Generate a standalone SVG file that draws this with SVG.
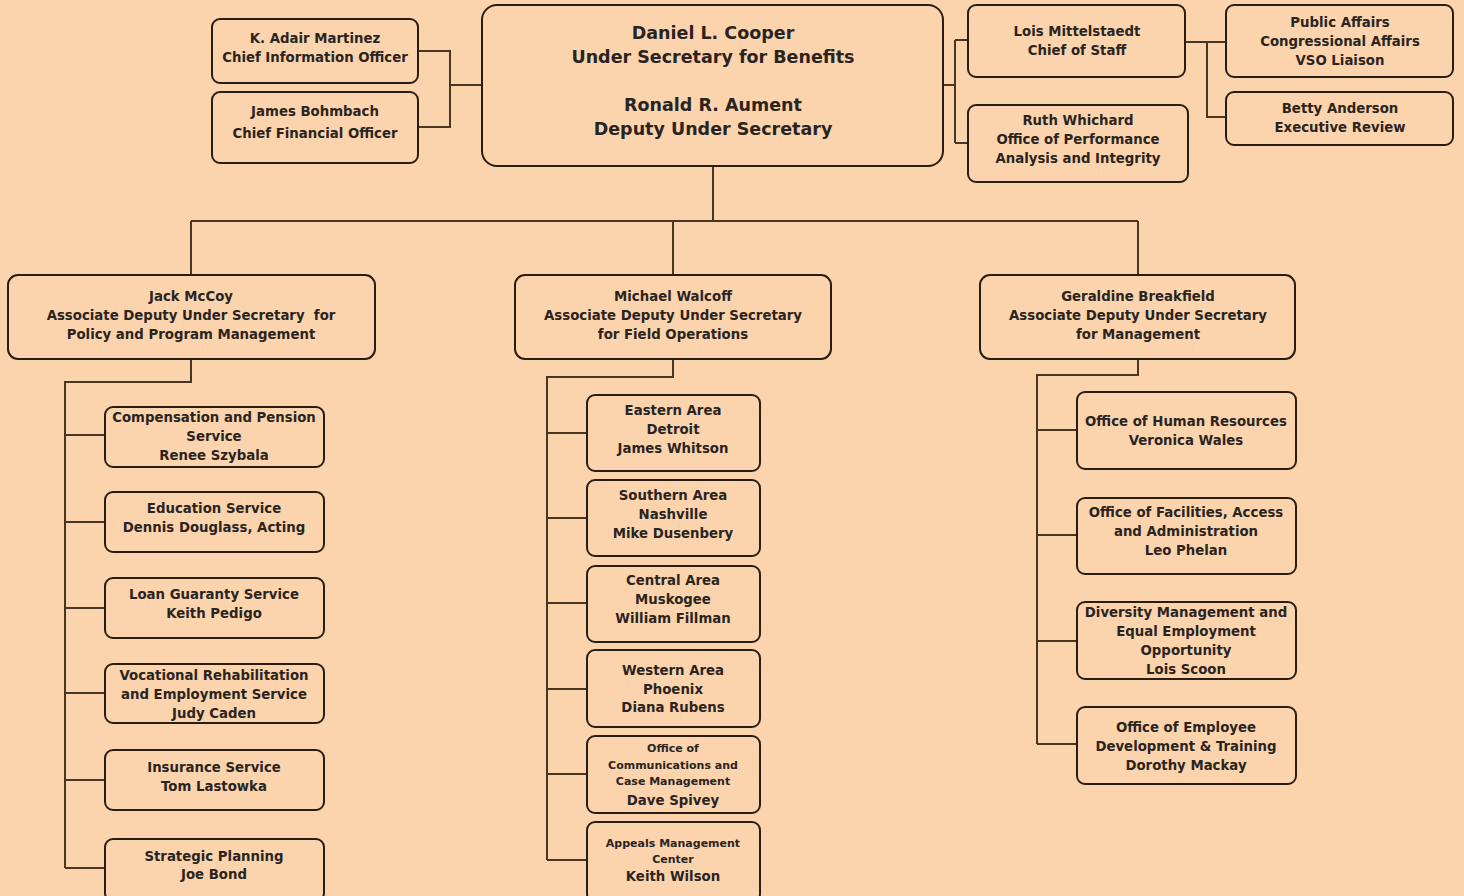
<svg xmlns="http://www.w3.org/2000/svg" width="1464" height="896" viewBox="0 0 1464 896">
<style>
.bx{fill:#FBD4AE;stroke:#2a1e12;stroke-width:2}
.t{font-family:"DejaVu Sans","Liberation Sans",sans-serif;font-weight:bold;font-size:13.3px;fill:#2a2420;text-anchor:middle}
.big{font-size:17.5px}
.sm{font-size:11px}
#connectors path{fill:none;stroke:#4a3522;stroke-width:2}
</style>
<rect width="1464" height="896" fill="#FBD4AE"/>
<g id="connectors">
<path d="M418 51H450V127H418M450 85H482"/>
<path d="M943 85H955M955 40V143M955 40H968M955 143H968"/>
<path d="M1185 42H1226M1207 42V117H1226"/>
<path d="M713 166V221M191 221H1138M191 221V275M673 221V275M1138 221V275"/>
<path d="M191 359V382H65V868M65 435H105M65 522H105M65 608H105M65 693H105M65 780H105M65 868H105"/>
<path d="M673 359V377H547V860M547 433H587M547 518H587M547 603H587M547 689H587M547 774H587M547 860H587"/>
<path d="M1138 359V375H1037V744M1037 430H1077M1037 535H1077M1037 641H1077M1037 744H1077"/>
</g>
<g id="cio"><rect class="bx" x="212" y="19" width="206" height="64" rx="8"/><text class="t" x="315" y="43">K. Adair Martinez</text><text class="t" x="315" y="62">Chief Information Officer</text></g>
<g id="cfo"><rect class="bx" x="212" y="92" width="206" height="71" rx="8"/><text class="t" x="315" y="116">James Bohmbach</text><text class="t" x="315" y="138">Chief Financial Officer</text></g>
<g id="usb"><rect class="bx" x="482" y="5" width="461" height="161" rx="15"/><text class="t big" x="713" y="39">Daniel L. Cooper</text><text class="t big" x="713" y="63">Under Secretary for Benefits</text><text class="t big" x="713" y="111">Ronald R. Aument</text><text class="t big" x="713" y="135">Deputy Under Secretary</text></g>
<g id="cos"><rect class="bx" x="968" y="5" width="217" height="72" rx="8"/><text class="t" x="1077" y="36">Lois Mittelstaedt</text><text class="t" x="1077" y="55">Chief of Staff</text></g>
<g id="opai"><rect class="bx" x="968" y="105" width="220" height="77" rx="8"/><text class="t" x="1078" y="125">Ruth Whichard</text><text class="t" x="1078" y="144">Office of Performance</text><text class="t" x="1078" y="163">Analysis and Integrity</text></g>
<g id="pa"><rect class="bx" x="1226" y="5" width="227" height="72" rx="8"/><text class="t" x="1340" y="27">Public Affairs</text><text class="t" x="1340" y="46">Congressional Affairs</text><text class="t" x="1340" y="65">VSO Liaison</text></g>
<g id="er"><rect class="bx" x="1226" y="92" width="227" height="53" rx="8"/><text class="t" x="1340" y="113">Betty Anderson</text><text class="t" x="1340" y="132">Executive Review</text></g>
<g id="ppm"><rect class="bx" x="8" y="275" width="367" height="84" rx="10"/><text class="t" x="191" y="301">Jack McCoy</text><text class="t" x="191" y="320" xml:space="preserve">Associate Deputy Under Secretary  for</text><text class="t" x="191" y="339">Policy and Program Management</text></g>
<g id="fo"><rect class="bx" x="515" y="275" width="316" height="84" rx="10"/><text class="t" x="673" y="301">Michael Walcoff</text><text class="t" x="673" y="320">Associate Deputy Under Secretary</text><text class="t" x="673" y="339">for Field Operations</text></g>
<g id="mgmt"><rect class="bx" x="980" y="275" width="315" height="84" rx="10"/><text class="t" x="1138" y="301">Geraldine Breakfield</text><text class="t" x="1138" y="320">Associate Deputy Under Secretary</text><text class="t" x="1138" y="339">for Management</text></g>
<g id="cp"><rect class="bx" x="105" y="407" width="219" height="60" rx="8"/><text class="t" x="214" y="422">Compensation and Pension</text><text class="t" x="214" y="441">Service</text><text class="t" x="214" y="460">Renee Szybala</text></g>
<g id="edu"><rect class="bx" x="105" y="492" width="219" height="60" rx="8"/><text class="t" x="214" y="513">Education Service</text><text class="t" x="214" y="532">Dennis Douglass, Acting</text></g>
<g id="loan"><rect class="bx" x="105" y="578" width="219" height="60" rx="8"/><text class="t" x="214" y="599">Loan Guaranty Service</text><text class="t" x="214" y="618">Keith Pedigo</text></g>
<g id="voc"><rect class="bx" x="105" y="664" width="219" height="59" rx="8"/><text class="t" x="214" y="680">Vocational Rehabilitation</text><text class="t" x="214" y="699">and Employment Service</text><text class="t" x="214" y="718">Judy Caden</text></g>
<g id="ins"><rect class="bx" x="105" y="750" width="219" height="60" rx="8"/><text class="t" x="214" y="772">Insurance Service</text><text class="t" x="214" y="791">Tom Lastowka</text></g>
<g id="sp"><rect class="bx" x="105" y="839" width="219" height="62" rx="8"/><text class="t" x="214" y="861">Strategic Planning</text><text class="t" x="214" y="879">Joe Bond</text></g>
<g id="east"><rect class="bx" x="587" y="395" width="173" height="76" rx="8"/><text class="t" x="673" y="415">Eastern Area</text><text class="t" x="673" y="434">Detroit</text><text class="t" x="673" y="453">James Whitson</text></g>
<g id="south"><rect class="bx" x="587" y="480" width="173" height="76" rx="8"/><text class="t" x="673" y="500">Southern Area</text><text class="t" x="673" y="519">Nashville</text><text class="t" x="673" y="538">Mike Dusenbery</text></g>
<g id="central"><rect class="bx" x="587" y="566" width="173" height="76" rx="8"/><text class="t" x="673" y="585">Central Area</text><text class="t" x="673" y="604">Muskogee</text><text class="t" x="673" y="623">William Fillman</text></g>
<g id="west"><rect class="bx" x="587" y="650" width="173" height="77" rx="8"/><text class="t" x="673" y="675">Western Area</text><text class="t" x="673" y="694">Phoenix</text><text class="t" x="673" y="712">Diana Rubens</text></g>
<g id="occm"><rect class="bx" x="587" y="736" width="173" height="77" rx="8"/><text class="t sm" x="673" y="752">Office of</text><text class="t sm" x="673" y="769">Communications and</text><text class="t sm" x="673" y="785">Case Management</text><text class="t" x="673" y="805">Dave Spivey</text></g>
<g id="amc"><rect class="bx" x="587" y="822" width="173" height="80" rx="8"/><text class="t sm" x="673" y="847">Appeals Management</text><text class="t sm" x="673" y="863">Center</text><text class="t" x="673" y="881">Keith Wilson</text></g>
<g id="hr"><rect class="bx" x="1077" y="392" width="219" height="77" rx="8"/><text class="t" x="1186" y="426">Office of Human Resources</text><text class="t" x="1186" y="445">Veronica Wales</text></g>
<g id="faa"><rect class="bx" x="1077" y="498" width="219" height="76" rx="8"/><text class="t" x="1186" y="517">Office of Facilities, Access</text><text class="t" x="1186" y="536">and Administration</text><text class="t" x="1186" y="555">Leo Phelan</text></g>
<g id="dm"><rect class="bx" x="1077" y="602" width="219" height="77" rx="8"/><text class="t" x="1186" y="617">Diversity Management and</text><text class="t" x="1186" y="636">Equal Employment</text><text class="t" x="1186" y="655">Opportunity</text><text class="t" x="1186" y="674">Lois Scoon</text></g>
<g id="edt"><rect class="bx" x="1077" y="707" width="219" height="77" rx="8"/><text class="t" x="1186" y="732">Office of Employee</text><text class="t" x="1186" y="751">Development &amp; Training</text><text class="t" x="1186" y="770">Dorothy Mackay</text></g>
</svg>
